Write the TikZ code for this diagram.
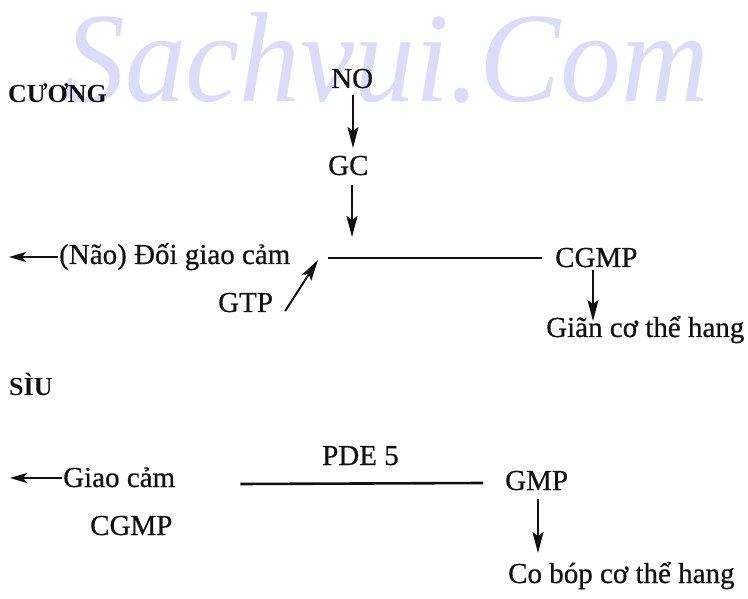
\documentclass[tikz,border=0pt]{standalone}
\usepackage{fontspec}
\setmainfont{Liberation Serif}
\newfontfamily\scanfont{Liberation Serif}[FakeBold=0.6]
\newfontfamily\wmfont{Liberation Serif}[FakeStretch=0.95]
\usetikzlibrary{arrows.meta,calc}
\definecolor{wm}{RGB}{218,220,250}
\definecolor{ink}{RGB}{17,17,17}
\tikzset{
  lbl/.style={anchor=base west,inner sep=0pt,text=ink,font=\scanfont\fontsize{29}{34}\selectfont},
  head/.style={anchor=base west,inner sep=0pt,text=ink,font=\bfseries\fontsize{26}{30}\selectfont},
  water/.style={anchor=base west,inner sep=0pt,text=wm,font=\wmfont\itshape\fontsize{128}{140}\selectfont},
  arr/.style={draw=ink,line width=2pt,-{Stealth[length=21pt,width=11pt,inset=4pt]}},
  larr/.style={draw=ink,line width=2.4pt,-{Stealth[length=17pt,width=10pt,inset=4pt]}},
  bar/.style={draw=ink,line width=2.6pt}
}
\begin{document}
\begin{tikzpicture}[x=1pt,y=-1pt]
\useasboundingbox[fill=white] (0,0) rectangle (748,599);
% watermark
\node[water] (wmk) at (64,102) {Sachvui.Com};
% upper part
\node[head] (cuong) at (8,103) {CƯƠNG};
\node[lbl] (no) at (331,88) {NO};
\node[lbl] (gc) at (328,175) {GC};
\node[lbl] (nao) at (59,264) {(Não) Đối giao cảm};
\node[lbl] (gtp) at (218,312) {GTP};
\node[lbl] (cgmp) at (555,267) {CGMP};
\node[lbl] (gian) at (546,337) {Giãn cơ thể hang};
\coordinate (jl) at (328,258);
\coordinate (naoend) at (9,257);
\draw[arr,line width=1.7pt] ($(no.base west)+(22,7)$) -- ($(gc.base west)+(25,-27)$);
\draw[arr] ($(gc.base west)+(24,10)$) -- ($(jl)+(24,-21)$);
\draw[bar] (jl) -- ($(cgmp.base west)+(-13,-9)$);
\draw[larr] ($(nao.base west)+(-1,-7)$) -- (naoend);
\draw[arr,line width=2pt] ($(gtp.base east)+(12,-1)$) -- ($(jl)+(-10,2)$);
\draw[arr,line width=1.6pt] ($(cgmp.base west)+(38,3)$) -- ($(gian.base west)+(47,-16)$);
% lower part
\node[head] (siu) at (9,395) {SÌU};
\node[lbl] (pde) at (322,465) {PDE 5};
\node[lbl] (giao) at (63,487) {Giao cảm};
\node[lbl] (cgmp2) at (90,535) {CGMP};
\node[lbl] (gmp) at (505,490) {GMP};
\node[lbl] (cobop) at (508,583) {Co bóp cơ thể hang};
\coordinate (giaoend) at (10,478);
\draw[larr] ($(giao.base west)+(-1,-9)$) -- (giaoend);
\draw[bar] ($(giao.base east)+(65,-3)$) -- ($(gmp.base west)+(-22,-7)$);
\draw[arr] ($(gmp.base west)+(33,9)$) -- ($(cobop.base west)+(30,-30)$);
\end{tikzpicture}
\end{document}
